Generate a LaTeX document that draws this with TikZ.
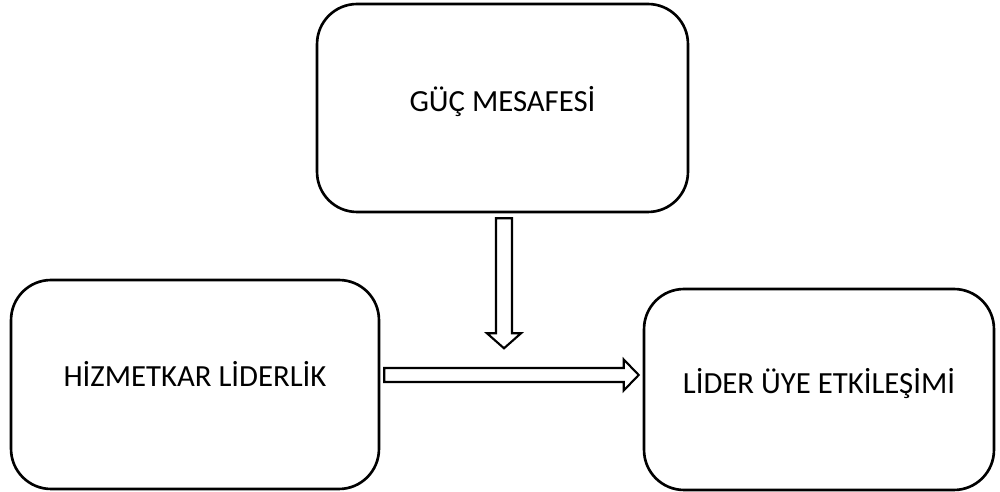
\documentclass[tikz,border=0pt]{standalone}
\usepackage{fontspec}
\setmainfont{Carlito}
\usetikzlibrary{calc}

\begin{document}
\begin{tikzpicture}[x=0.02cm, y=-0.02cm,
    box/.style={draw, line width=1.5pt, rounded corners=0.8cm, inner sep=0pt,
      font=\fontsize{17.5}{21}\selectfont, align=center},
    hollow/.style={draw, line width=1.2pt, fill=white, line join=miter}]
  % --- FRAME (pixel units of the reference) ---
  \useasboundingbox (0,0) rectangle (1000,492);

  % =====================================================================
  % 1. BOXES
  % =====================================================================
  \node[box, minimum width=7.42cm, minimum height=4.16cm] (guc) at (502.5,108)
    {\raisebox{10.5pt}{GÜÇ MESAFESİ}};
  \node[box, minimum width=7.36cm, minimum height=4.18cm] (hizmet) at (195,384.5)
    {\raisebox{12pt}{HİZMETKAR LİDERLİK}};
  \node[box, minimum width=7.0cm, minimum height=4.02cm] (lider) at (819,389.5)
    {\raisebox{10pt}{LİDER ÜYE ETKİLEŞİMİ}};

  % =====================================================================
  % 2. BLOCK ARROWS
  % =====================================================================
  % Moderator: down from the top box
  \coordinate (vs) at ($(guc.south)+(1.5,5)$);
  \coordinate (vt) at ($(guc.south)+(1.5,135)$);
  \draw[hollow] ($(vs)+(-8,0)$) -- ($(vt)+(-8,-15)$) -- ($(vt)+(-17,-15)$) -- (vt)
    -- ($(vt)+(17,-15)$) -- ($(vt)+(8,-15)$) -- ($(vs)+(8,0)$) -- cycle;

  % Main effect: left box to right box
  \coordinate (hs) at ($(hizmet.east)+(4,-9.5)$);
  \coordinate (ht) at ($(lider.west)+(-4,-14.5)$);
  \draw[hollow] ($(hs)+(0,-7)$) -- ($(ht)+(-15,-7)$) -- ($(ht)+(-15,-15.5)$) -- (ht)
    -- ($(ht)+(-15,15.5)$) -- ($(ht)+(-15,7)$) -- ($(hs)+(0,7)$) -- cycle;

\end{tikzpicture}
\end{document}
